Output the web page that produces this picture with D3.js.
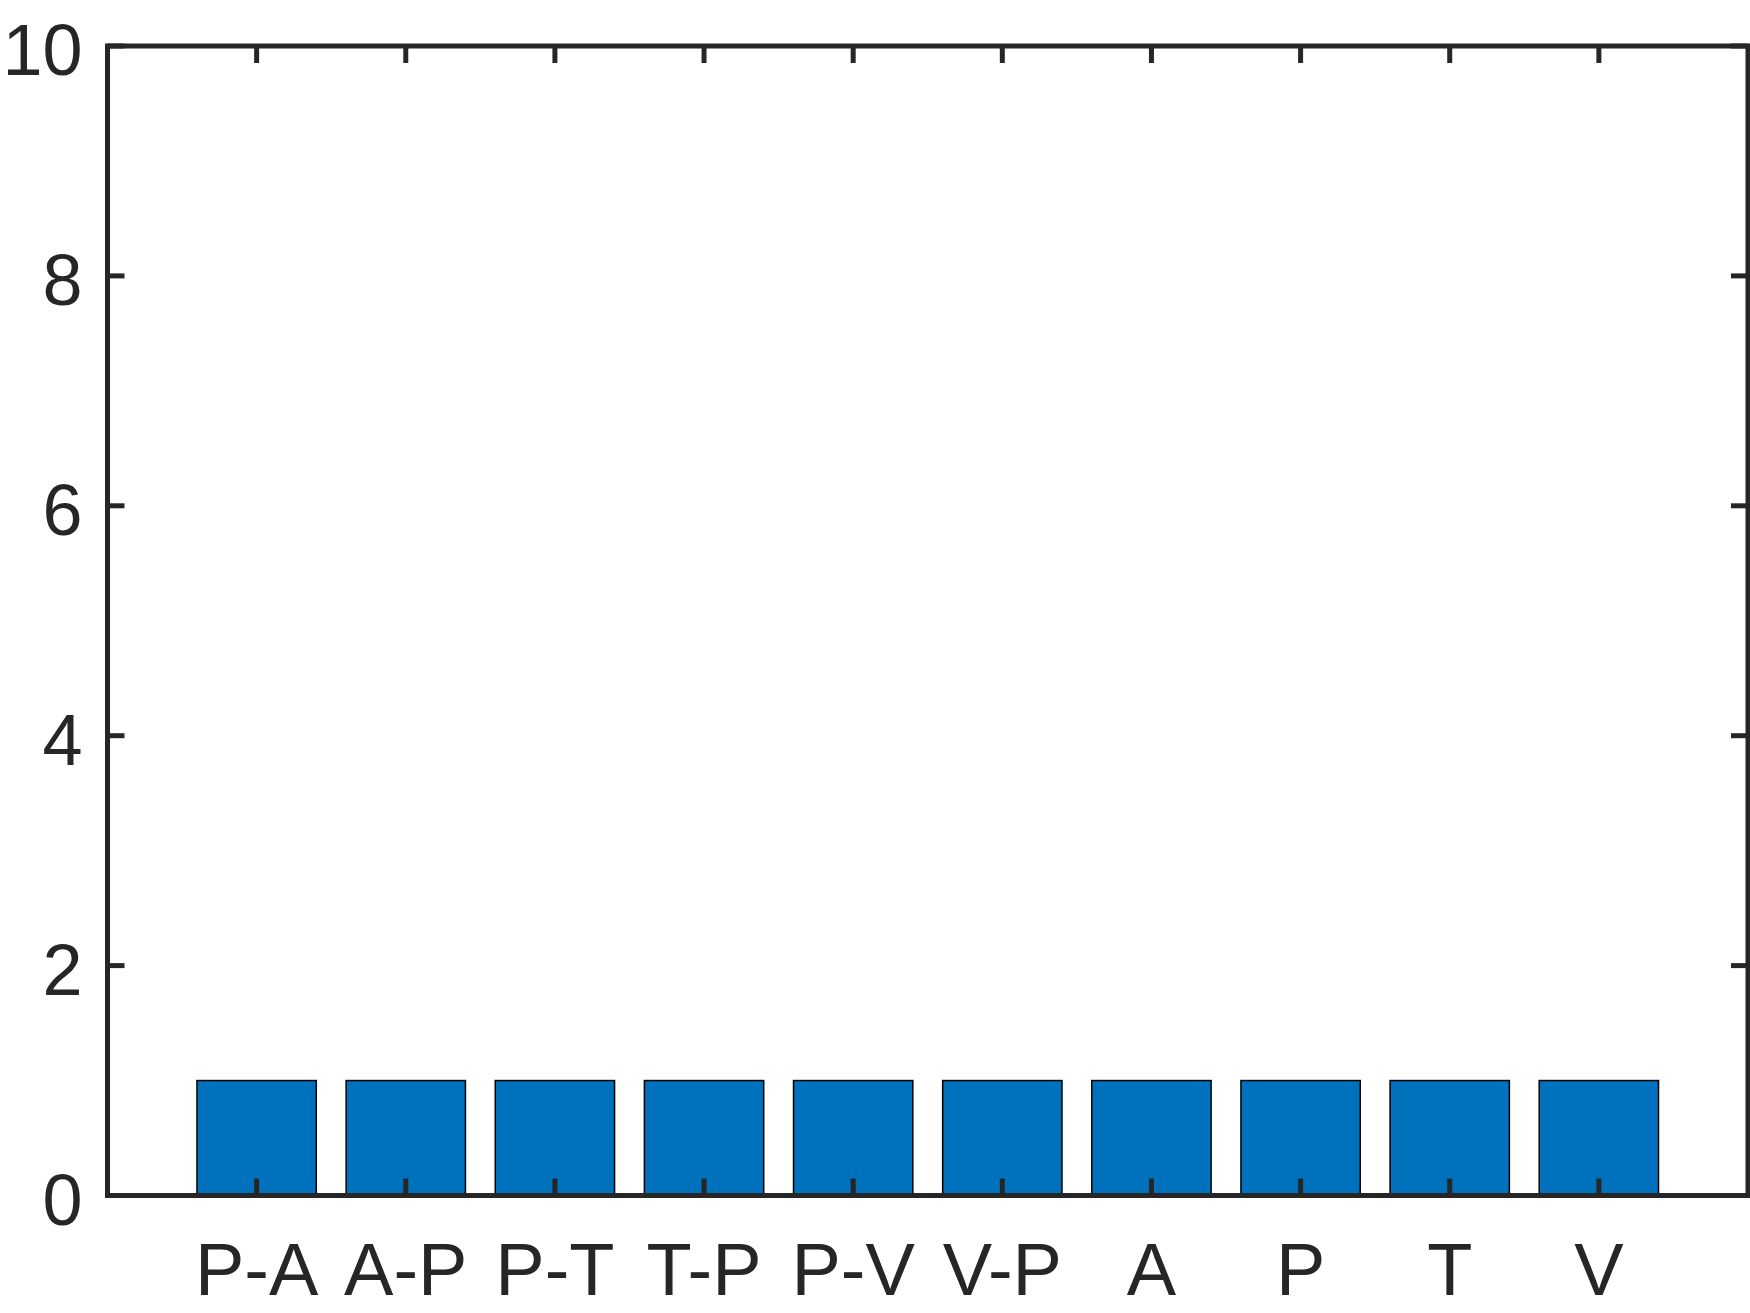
<!DOCTYPE html>
<html>
<head>
<meta charset="utf-8">
<script src="https://cdn.jsdelivr.net/npm/d3@7"></script>
<style>
  body { margin: 0; background: #fff; }
  svg text { font-family: "Liberation Sans", Arial, sans-serif; fill: #262626; }
</style>
</head>
<body>
<div id="chart"></div>
<script>
// data
const categories = ["P-A", "A-P", "P-T", "T-P", "P-V", "V-P", "A", "P", "T", "V"];
const values = [1, 1, 1, 1, 1, 1, 1, 1, 1, 1];
const yTicks = [0, 2, 4, 6, 8, 10];

let width = 1750;
let height = 1313;
// plot box edges (top/left clash with window globals, so prefixed)
let pLeft = 107.5, pRight = 1748, pTop = 46, pBottom = 1195.5;
let axisColor = "#262626";
let tickLen = 17;

let svg = d3.select("#chart")
            .append("svg")
            .attr("width", width)
            .attr("height", height)

let x = d3.scaleLinear().domain([0, categories.length + 1]).range([pLeft, pRight]);
let y = d3.scaleLinear().domain([0, 10]).range([pBottom, pTop]);
let barW = x(0.8) - x(0);

// bars
svg.selectAll("rect.bar")
  .data(values)
  .enter()
  .append("rect")
  .attr("class", "bar")
  .attr("x", (d, i) => x(i + 1) - barW / 2)
  .attr("y", d => y(d))
  .attr("width", barW)
  .attr("height", d => y(0) - y(d))
  .attr("fill", "#0072BD")
  .attr("stroke", "#000")
  .attr("stroke-width", 1.5)

// ticks, drawn inward on all four sides
let g = svg.append("g").attr("stroke", axisColor).attr("stroke-width", 5);
categories.forEach((c, i) => {
  let xx = x(i + 1);
  g.append("line").attr("x1", xx).attr("x2", xx).attr("y1", pBottom).attr("y2", pBottom - tickLen);
  g.append("line").attr("x1", xx).attr("x2", xx).attr("y1", pTop).attr("y2", pTop + tickLen);
});
yTicks.forEach(t => {
  let yy = y(t);
  g.append("line").attr("x1", pLeft).attr("x2", pLeft + tickLen).attr("y1", yy).attr("y2", yy);
  g.append("line").attr("x1", pRight).attr("x2", pRight - tickLen).attr("y1", yy).attr("y2", yy);
});

// box
svg.append("rect")
  .attr("x", pLeft)
  .attr("y", pTop)
  .attr("width", pRight - pLeft)
  .attr("height", pBottom - pTop)
  .attr("fill", "none")
  .attr("stroke", axisColor)
  .attr("stroke-width", 5)

// labels
svg.selectAll("text.ylab")
  .data(yTicks)
  .enter()
  .append("text")
  .attr("class", "ylab")
  .attr("x", pLeft - 25)
  .attr("y", d => y(d) + 29)
  .attr("text-anchor", "end")
  .style("font-size", "72px")
  .text(d => d)

svg.selectAll("text.xlab")
  .data(categories)
  .enter()
  .append("text")
  .attr("class", "xlab")
  .attr("x", (d, i) => x(i + 1))
  .attr("y", 1295)
  .attr("text-anchor", "middle")
  .style("font-size", "74px")
  .text(d => d)
</script>
</body>
</html>
